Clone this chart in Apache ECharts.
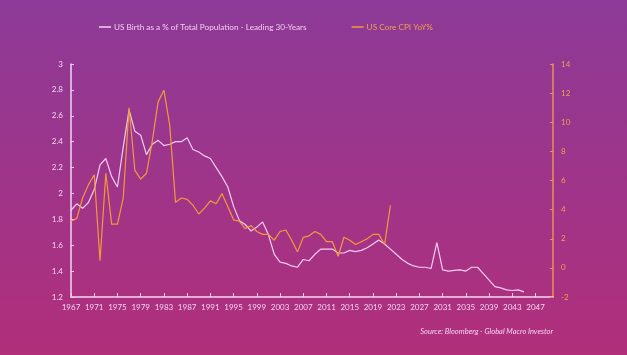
<!DOCTYPE html>
<html><head><meta charset="utf-8">
<script src="https://cdn.jsdelivr.net/npm/echarts@6/dist/echarts.min.js"></script>
<style>html,body{margin:0;padding:0;}#c{width:627px;height:355px;}</style>
</head><body><div id="c"></div>
<script>
var years = [];
for (var y = 1967; y <= 2050; y++) years.push(String(y));

var birthName = 'US Birth as a % of Total Population - Leading 30-Years';
var cpiName = 'US Core CPI YoY%';

var birthValues = [1.87,1.92,1.885,1.93,2.03,2.22,2.27,2.13,2.05,2.36,
2.645,2.48,2.45,2.30,2.38,2.41,2.37,2.38,2.40,2.40,
2.43,2.34,2.32,2.29,2.27,2.20,2.13,2.05,1.90,1.79,
1.76,1.71,1.74,1.78,1.68,1.53,1.47,1.46,1.44,1.43,
1.49,1.48,1.53,1.57,1.57,1.57,1.54,1.54,1.56,1.55,
1.56,1.58,1.61,1.64,1.61,1.57,1.53,1.49,1.46,1.44,
1.43,1.43,1.42,1.62,1.41,1.40,1.405,1.41,1.40,1.43,
1.43,1.38,1.33,1.28,1.27,1.255,1.25,1.255,1.24,null,
null,null,null,null];

var cpiValues = [3.2,3.4,4.8,5.7,6.4,0.5,6.5,3.0,3.0,4.8,
11.0,6.7,6.1,6.5,8.7,11.4,12.2,9.8,4.5,4.8,
4.7,4.3,3.7,4.1,4.6,4.4,5.1,4.2,3.3,3.2,
2.7,2.9,2.5,2.3,2.3,1.9,2.5,2.6,1.9,1.1,
2.1,2.2,2.5,2.3,1.8,1.8,0.8,2.1,1.9,1.6,
1.8,2.0,2.3,2.3,1.6,4.3];

var leftTicks = {min: 1.2, max: 3, interval: 0.2};
var rightTicks = {min: -2, max: 14, interval: 2};

var chart = echarts.init(document.getElementById('c'));
var font = 'Lato, "Open Sans", sans-serif';
chart.setOption({
  backgroundColor: new echarts.graphic.LinearGradient(0,0,0,1,[
    {offset:0,color:'#8c3a98'},{offset:1,color:'#b12f7b'}]),
  animation:false,
  textStyle:{fontFamily:font},
  legend:{
    top:18, left:94, itemGap:45, itemWidth:12, itemHeight:1.5, icon:'rect',
    textStyle:{fontSize:8.2, fontFamily:font, padding:[0,0,0,-2]},
    data:[
      {name:birthName, textStyle:{color:'#f3cdef'}},
      {name:cpiName, textStyle:{color:'#f0a050'}}
    ]
  },
  grid:{left:71, right:74, top:64, bottom:58},
  xAxis:{
    type:'category', data:years, boundaryGap:false,
    axisLine:{onZero:false, lineStyle:{color:'#f5d6f3', width:1.5}},
    axisTick:{inside:true, length:4, interval:3, lineStyle:{color:'#f0c8ee'}},
    axisLabel:{interval:3, color:'#f3d3f0', fontSize:8, margin:6, fontFamily:font},
    splitLine:{show:false}
  },
  yAxis:[{
    type:'value', min:leftTicks.min, max:leftTicks.max, interval:leftTicks.interval,
    axisLine:{show:true, lineStyle:{color:'#f5d6f3', width:1.5}},
    axisTick:{show:true, inside:true, length:3, lineStyle:{color:'#f0c8ee'}},
    axisLabel:{color:'#f3d3f0', fontSize:8, margin:8, fontFamily:font,
      formatter:function(v){return String(Math.round(v*10)/10);}},
    splitLine:{show:false}
  },{
    type:'value', position:'right', min:rightTicks.min, max:rightTicks.max, interval:rightTicks.interval,
    axisLine:{show:true, lineStyle:{color:'#e8905a', width:1.5}},
    axisTick:{show:true, inside:true, length:3, lineStyle:{color:'#e8905a'}},
    axisLabel:{color:'#f0a050', fontSize:8, margin:8, fontFamily:font},
    splitLine:{show:false}
  }],
  series:[{
    name:birthName, type:'line', data:birthValues, yAxisIndex:0,
    showSymbol:false, symbol:'none', connectNulls:false,
    lineStyle:{color:'#f6cdf2', width:1.2}, itemStyle:{color:'#f6cdf2'}
  },{
    name:cpiName, type:'line', data:cpiValues, yAxisIndex:1,
    showSymbol:false, symbol:'none',
    lineStyle:{color:'#f29a3a', width:1.2}, itemStyle:{color:'#f29a3a'}
  }],
  graphic:[{
    type:'text', right:74, top:328,
    style:{text:'Source: Bloomberg - Global Macro Investor', fill:'#f3d3f0',
      font:'italic 7.5px ' + font}
  }]
});
</script></body></html>
